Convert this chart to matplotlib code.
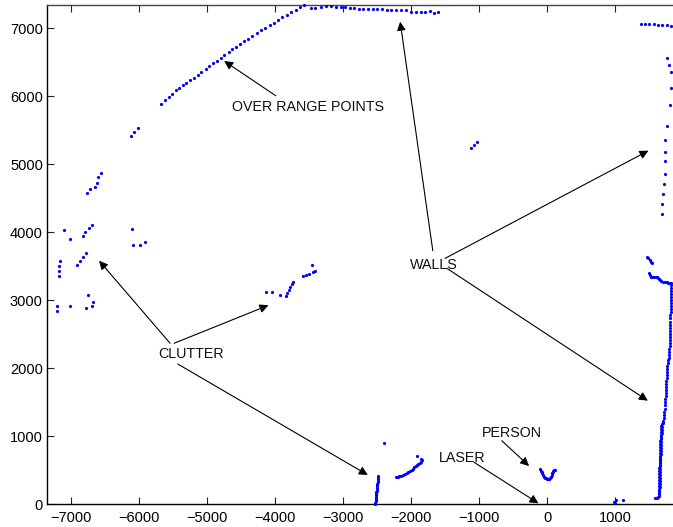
import matplotlib
matplotlib.use("Agg")
import matplotlib.pyplot as plt

# ---- laser scan returns (mm) ----
arc_x = [-5668, -5609, -5560, -5507, -5457, -5404, -5354, -5301, -5242, -5188,
         -5129, -5080, -5016, -4963, -4904, -4850, -4796, -4743, -4678, -4625,
         -4566, -4508, -4449, -4390, -4331, -4267, -4203, -4140, -4076, -4017,
         -3954, -3890, -3826, -3762, -3693, -3630, -3571]
arc_y = [5882, 5945, 5989, 6029, 6087, 6121, 6161, 6200, 6239, 6273,
         6313, 6357, 6401, 6440, 6485, 6523, 6563, 6607, 6651, 6691,
         6729, 6769, 6808, 6847, 6891, 6931, 6970, 7004, 7049, 7082,
         7122, 7161, 7200, 7240, 7274, 7313, 7343]

top_wall_x = [-3473, -3405, -3326, -3248, -3175, -3106, -3032, -2964, -2895, -2832,
              -2763, -2700, -2631, -2562, -2494, -2425, -2356, -2288, -2219, -2150,
              -2072, -1999, -1925, -1856, -1788, -1720, -1661, -1598]
top_wall_y = [7299, 7299, 7314, 7328, 7324, 7318, 7314, 7309, 7304, 7299,
              7289, 7279, 7279, 7284, 7284, 7289, 7265, 7265, 7265, 7265,
              7269, 7245, 7245, 7245, 7245, 7250, 7230, 7245]

far_right_x = [1377, 1440, 1504, 1568, 1631, 1695, 1759, 1822,
               1764, 1793, 1818, 1818, 1803, 1759, 1739, 1730, 1739, 1730,
               1715, 1709, 1695, 1686]
far_right_y = [7068, 7058, 7058, 7058, 7053, 7048, 7048, 7038,
               6568, 6456, 6353, 6126, 5876, 5558, 5356, 5180, 5043, 4860,
               4709, 4566, 4415, 4263]

right_wall_x = [1465, 1485, 1505, 1525, 1548,
                1504, 1515, 1528, 1550, 1572, 1595, 1617, 1635, 1651, 1665, 1675,
                1700, 1734, 1756, 1778, 1800, 1822,
                1822, 1821, 1820, 1820, 1819, 1818, 1817, 1816, 1815, 1814,
                1813, 1812, 1811, 1810, 1808, 1807, 1806, 1805, 1803, 1802,
                1800, 1798, 1797, 1793, 1784, 1775, 1770, 1768, 1765, 1762,
                1760, 1757, 1754, 1752, 1749, 1746, 1743, 1740, 1737, 1734,
                1731, 1728, 1724, 1720, 1716, 1710, 1700,
                1692, 1680, 1690, 1676, 1686, 1672, 1683, 1670, 1680, 1668,
                1678, 1665, 1676, 1663, 1674, 1661, 1672, 1660, 1670, 1658,
                1668, 1656, 1666, 1655, 1665, 1653, 1663, 1652, 1662, 1650,
                1660, 1649, 1659, 1648, 1657, 1646, 1656, 1645, 1655, 1644,
                1653, 1643, 1652, 1641, 1650, 1640, 1648, 1638, 1645, 1630,
                1610, 1590]
right_wall_y = [3640, 3615, 3590, 3565, 3540,
                3395, 3370, 3345, 3338, 3335, 3340, 3345, 3325, 3306, 3290, 3281,
                3272, 3267, 3262, 3257, 3254, 3252,
                3223, 3180, 3135, 3090, 3045, 3000, 2955, 2910, 2865, 2820,
                2775, 2730, 2685, 2640, 2595, 2550, 2505, 2460, 2415, 2370,
                2325, 2280, 2235, 2190, 2150, 2115, 2080, 2035, 1990, 1945,
                1900, 1855, 1810, 1765, 1720, 1675, 1630, 1585, 1540, 1495,
                1450, 1405, 1360, 1315, 1270, 1225, 1190,
                1170, 1150, 1128, 1108, 1086, 1064, 1042, 1020, 998, 976,
                954, 932, 910, 888, 866, 844, 822, 800, 778, 756,
                734, 712, 690, 668, 646, 624, 602, 580, 558, 536,
                514, 492, 470, 448, 426, 404, 382, 360, 338, 316,
                294, 272, 250, 228, 206, 184, 162, 140, 118, 100,
                92, 90]

clutter_left_x = [-6765, -6721, -6643, -6609, -6599, -6559,
                  -7099, -7010, -6819, -6785, -6736, -6687,
                  -6104, -6085, -5977, -5913,
                  -7157, -7172, -7172, -7172, -6903, -6864, -6815, -6775,
                  -7202, -7202, -7010, -6780, -6746, -6677, -6682,
                  -6114, -6070, -6011]
clutter_left_y = [4572, 4631, 4665, 4724, 4807, 4866,
                  4027, 3895, 3948, 4007, 4057, 4110,
                  4051, 3811, 3816, 3851,
                  3576, 3507, 3429, 3350, 3522, 3580, 3630, 3689,
                  2918, 2844, 2914, 2889, 3080, 2977, 2914,
                  5420, 5474, 5533]

clutter_mid_x = [-4134, -4046, -3924, -3840, -3817, -3796, -3773, -3748, -3729,
                 -3591, -3542, -3493, -3443, -3405, -3454,
                 -1112, -1073, -1024]
clutter_mid_y = [3120, 3115, 3071, 3061, 3105, 3149, 3198, 3242, 3267,
                 3350, 3365, 3389, 3409, 3433, 3522,
                 5234, 5283, 5331]

clutter_low_x = [-2479, -2482, -2484, -2488, -2489, -2493, -2494, -2497, -2500, -2502,
                 -2504, -2508, -2509, -2512, -2515, -2517, -2519, -2522, -2525, -2528,
                 -2391,
                 -2219, -2195, -2170, -2145, -2112, -2090, -2065, -2040, -2013, -1990,
                 -1970, -1950, -1930, -1910, -1891, -1870, -1852, -1842, -1860, -1906]
clutter_low_y = [412, 390, 368, 345, 324, 301, 280, 258, 236, 213,
                 192, 170, 148, 126, 104, 82, 60, 38, 16, 2,
                 902,
                 393, 400, 410, 418, 427, 440, 452, 468, 486, 505,
                 522, 540, 558, 574, 589, 604, 622, 647, 668, 711]

person_x = [-98, -90, -80, -69, -55, -40, -25, -15, 0, 10,
            22, 34, 47, 59, 70, 78, 86, 93, 105, 118]
person_y = [511, 490, 470, 452, 425, 402, 388, 378, 368, 363,
            366, 372, 385, 402, 425, 452, 470, 490, 498, 500]

floor_x = [985, 1000, 1010, 1120]
floor_y = [30, 10, 55, 60]

# ---- annotations: (label, text position, [arrow tips], [arrow tails]) ----
labels = ["OVER RANGE POINTS", "WALLS", "CLUTTER", "PERSON", "LASER"]
label_pos = [(-4630, 5842), (-2013, 3520), (-5713, 2203), (-960, 1049), (-1587, 672)]
arrow_tips = [
    [(-4747, 6519)],
    [(-2160, 7097), (1489, 5199), (1480, 1520)],
    [(-6584, 3580), (-4096, 2924), (-2635, 427)],
    [(-265, 559)],
    [(-127, 10)],
]
arrow_tails = [
    [(-3988, 6008)],
    [(-1680, 3727), (-1499, 3615), (-1474, 3468)],
    [(-5541, 2365), (-5482, 2365), (-5428, 2060)],
    [(-666, 931)],
    [(-1073, 613)],
]

x_ticks = [-7000, -6000, -5000, -4000, -3000, -2000, -1000, 0, 1000]
y_ticks = [0, 1000, 2000, 3000, 4000, 5000, 6000, 7000]

plt.rcParams["font.family"] = ["Liberation Sans", "DejaVu Sans"]

fig = plt.figure(figsize=(6.73, 5.27), dpi=100)
ax = fig.add_axes([47 / 673, 23 / 527, 626 / 673, 499 / 527])

groups = [
    (arc_x, arc_y), (top_wall_x, top_wall_y), (far_right_x, far_right_y),
    (right_wall_x, right_wall_y), (clutter_left_x, clutter_left_y),
    (clutter_mid_x, clutter_mid_y), (clutter_low_x, clutter_low_y),
    (person_x, person_y), (floor_x, floor_y),
]
for gx, gy in groups:
    ax.plot(gx, gy, linestyle="none", marker="o", markersize=2.3,
            markeredgewidth=0, color="#0000ff", clip_on=False, zorder=3)

for text, pos, tips, tails in zip(labels, label_pos, arrow_tips, arrow_tails):
    ax.text(pos[0], pos[1], text, fontsize=10.3, ha="left", va="center",
            color="#111111", zorder=4)
    for tip, tail in zip(tips, tails):
        ax.annotate("", xy=tip, xytext=tail,
                    arrowprops=dict(arrowstyle="-|>", color="black", lw=0.8,
                                    mutation_scale=13, shrinkA=0, shrinkB=0),
                    zorder=4)

ax.set_xlim(-7350, 1850)
ax.set_ylim(0, 7343)
ax.set_xticks(x_ticks)
ax.set_yticks(y_ticks)
ax.tick_params(direction="in", length=5, width=0.8, labelsize=10.5,
               top=True, right=False, color="#222222")
ax.tick_params(axis="x", pad=5)
ax.tick_params(axis="y", pad=3)
ax.spines["right"].set_visible(False)
for side in ("left", "bottom", "top"):
    ax.spines[side].set_linewidth(1.0)
ax.spines["top"].set_color("#444444")

fig.savefig("out.png", dpi=100)
